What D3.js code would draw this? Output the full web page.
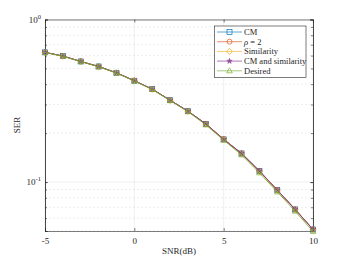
<!DOCTYPE html>
<html><head><meta charset="utf-8">
<script src="https://cdn.jsdelivr.net/npm/d3@7"></script>
<style>body{margin:0;background:#fff}svg{display:block}text{font-family:"Liberation Serif","DejaVu Serif",serif;fill:#262626}</style>
</head><body><svg id="c" width="346" height="260"></svg>
<script>
const snr = [-5,-4,-3,-2,-1,0,1,2,3,4,5,6,7,8,9,10];
const cm       = [0.628,0.596,0.552,0.514,0.470,0.420,0.373,0.319,0.273,0.228,0.183,0.150,0.117,0.0893,0.0679,0.0511];
const rho2     = [0.628,0.596,0.553,0.514,0.470,0.421,0.373,0.319,0.273,0.228,0.184,0.150,0.117,0.0895,0.0680,0.0512];
const simil    = [0.627,0.595,0.552,0.513,0.469,0.420,0.372,0.318,0.272,0.227,0.183,0.149,0.116,0.0890,0.0677,0.0510];
const cmSimil  = [0.628,0.596,0.552,0.514,0.470,0.420,0.373,0.319,0.273,0.228,0.183,0.150,0.117,0.0893,0.0679,0.0511];
const desired  = [0.627,0.594,0.551,0.512,0.468,0.418,0.371,0.317,0.271,0.225,0.181,0.147,0.114,0.0870,0.0662,0.0497];
const seriesNames = ["CM","ρ = 2","Similarity","CM and similarity","Desired"];
const xTicks = [-5,0,5,10];
const colors = ["#0072BD","#D95319","#EDB120","#7E2F8E","#77AC30"];

const series = [cm,rho2,simil,cmSimil,desired];
const svg = d3.select("#c");
const L=45,R=313,T=19.5,B=231;
const x = d3.scaleLinear().domain([-5,10]).range([L,R]);
const y = d3.scaleLog().domain([0.05,1]).range([B,T]);

// grid
const minor = [];
for (const d of [0.01,0.1]) for (let k=1;k<10;k++){const v=d*k; if(v>=0.05&&v<=1) minor.push(v);}
const g = svg.append("g");
g.selectAll(".mg").data(minor.filter(v=>Math.abs(Math.log10(v)-Math.round(Math.log10(v)))>1e-6)).join("line")
  .attr("x1",L).attr("x2",R).attr("y1",d=>y(d)).attr("y2",d=>y(d))
  .attr("stroke","#e0e0e0").attr("stroke-width",0.6).attr("stroke-dasharray","2,2");
g.selectAll(".Mg").data([0.1,1]).join("line")
  .attr("x1",L).attr("x2",R).attr("y1",d=>y(d)).attr("y2",d=>y(d))
  .attr("stroke","#e6e6e6").attr("stroke-width",0.6);
g.selectAll(".xg").data(xTicks).join("line")
  .attr("x1",d=>x(d)).attr("x2",d=>x(d)).attr("y1",T).attr("y2",B)
  .attr("stroke","#e6e6e6").attr("stroke-width",0.6);

// axes
const ax = svg.append("g").attr("transform",`translate(0,${B})`)
  .call(d3.axisBottom(x).tickValues(xTicks).tickSize(-3).tickPadding(7).tickFormat(d=>d));
const axT = svg.append("g").attr("transform",`translate(0,${T})`)
  .call(d3.axisTop(x).tickValues(xTicks).tickSize(-3).tickFormat(""));
const ayL = svg.append("g").attr("transform",`translate(${L},0)`)
  .call(d3.axisLeft(y).tickValues(minor).tickSize(-2).tickFormat(""));
const ayL2 = svg.append("g").attr("transform",`translate(${L},0)`)
  .call(d3.axisLeft(y).tickValues([0.1,1]).tickSize(-3).tickFormat(""));
const ayR = svg.append("g").attr("transform",`translate(${R},0)`)
  .call(d3.axisRight(y).tickValues(minor).tickSize(-2).tickFormat(""));
const ayR2 = svg.append("g").attr("transform",`translate(${R},0)`)
  .call(d3.axisRight(y).tickValues([0.1,1]).tickSize(-3).tickFormat(""));
for (const a of [ax,axT,ayL,ayL2,ayR,ayR2]) {
  a.selectAll("path").attr("stroke","#262626").attr("stroke-width",0.6);
  a.selectAll("line").attr("stroke","#262626").attr("stroke-width",0.6);
  a.selectAll("text").attr("font-size",9).attr("font-family","Liberation Serif").attr("fill","#262626");
}
// y labels with superscripts
const yl = svg.append("g");
[[1,"0"],[0.1,"-1"]].forEach(([v,e])=>{
  const t = yl.append("text").attr("x",L-4).attr("y",y(v)+3).attr("text-anchor","end").attr("font-size",9);
  t.append("tspan").text("10");
  t.append("tspan").attr("dy",-4).attr("font-size",6.5).text(e);
});
svg.append("text").attr("transform",`translate(20,125) rotate(-90)`).attr("text-anchor","middle").attr("font-size",9).text("SER");
svg.append("text").attr("x",(L+R)/2).attr("y",254).attr("text-anchor","middle").attr("font-size",9).text("SNR(dB)");

// markers
function marker(sel, i, cx, cy){
  const c = colors[i], s=2.5;
  if(i===0) sel.append("rect").attr("x",cx-s).attr("y",cy-s).attr("width",2*s).attr("height",2*s).attr("fill","none").attr("stroke",c).attr("stroke-width",0.7);
  if(i===1) sel.append("circle").attr("cx",cx).attr("cy",cy).attr("r",s).attr("fill","none").attr("stroke",c).attr("stroke-width",0.7);
  if(i===2) sel.append("path").attr("d",`M${cx},${cy-3.2}L${cx+2.8},${cy}L${cx},${cy+3.2}L${cx-2.8},${cy}Z`).attr("fill","none").attr("stroke",c).attr("stroke-width",0.7);
  if(i===3) sel.append("path").attr("d",d3.symbol(d3.symbolStar,9)()).attr("transform",`translate(${cx},${cy})`).attr("fill",c).attr("fill-opacity",0.7).attr("stroke",c).attr("stroke-width",0.5);
  if(i===4) sel.append("path").attr("d",`M${cx},${cy-3}L${cx+2.8},${cy+2}L${cx-2.8},${cy+2}Z`).attr("fill","none").attr("stroke",c).attr("stroke-width",0.7);
}
const line = d3.line().x((d,j)=>x(snr[j])).y(d=>y(d));
series.forEach((s,i)=>{
  const gg = svg.append("g");
  gg.append("path").attr("d",line(s)).attr("fill","none").attr("stroke",colors[i]).attr("stroke-width",0.9);
  s.forEach((v,j)=>marker(gg,i,x(snr[j]),y(v)));
});

// legend
const lg = svg.append("g");
lg.append("rect").attr("x",214.5).attr("y",26).attr("width",91.5).attr("height",51.5).attr("fill","#fff").attr("stroke","#262626").attr("stroke-width",0.6);
seriesNames.forEach((n,i)=>{
  const yy = 32 + i*9.7;
  lg.append("line").attr("x1",217).attr("x2",242).attr("y1",yy).attr("y2",yy).attr("stroke",colors[i]).attr("stroke-width",0.9).attr("stroke-opacity",0.7);
  marker(lg,i,229.5,yy);
  if(i===1){
    const t=lg.append("text").attr("x",244).attr("y",yy+3).attr("font-size",8.5);
    t.append("tspan").attr("font-style","italic").text("ρ");
    t.append("tspan").text(" = 2");
  } else lg.append("text").attr("x",244).attr("y",yy+3).attr("font-size",8.5).text(n);
});
</script></body></html>
